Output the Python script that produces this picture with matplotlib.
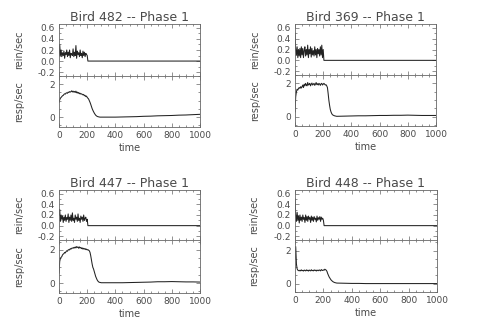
import matplotlib
matplotlib.use("Agg")
import matplotlib.pyplot as plt
from matplotlib.ticker import MultipleLocator, FixedLocator

# ---------------- data ----------------
birds = ["482", "369", "447", "448"]

rein_time = list(range(0, 205, 5)) + [205, 1000]

rein_482 = [0.10, 0.30, 0.10, 0.20, 0.08, 0.15, 0.10, 0.18, 0.05, 0.15, 0.12, 0.20, 0.08, 0.16,
            0.10, 0.20, 0.06, 0.14, 0.12, 0.10, 0.22, 0.08, 0.16, 0.10, 0.28, 0.05, 0.18, 0.12,
            0.15, 0.08, 0.20, 0.10, 0.14, 0.06, 0.18, 0.10, 0.16, 0.08, 0.14, 0.12, 0.10, 0.0, 0.0]
rein_369 = [0.50, 0.20, 0.10, 0.25, 0.05, 0.20, 0.08, 0.22, 0.05, 0.25, 0.10, 0.22, 0.05, 0.18,
            0.25, 0.08, 0.20, 0.10, 0.28, 0.05, 0.20, 0.12, 0.25, 0.06, 0.22, 0.10, 0.18, 0.08,
            0.25, 0.10, 0.20, 0.05, 0.22, 0.12, 0.20, 0.08, 0.25, 0.10, 0.28, 0.05, 0.20, 0.0, 0.0]
rein_447 = [0.20, 0.30, 0.08, 0.20, 0.12, 0.18, 0.06, 0.16, 0.10, 0.20, 0.08, 0.15, 0.12, 0.22,
            0.06, 0.16, 0.10, 0.20, 0.08, 0.24, 0.10, 0.14, 0.06, 0.20, 0.12, 0.16, 0.08, 0.22,
            0.10, 0.14, 0.06, 0.18, 0.12, 0.16, 0.08, 0.20, 0.10, 0.14, 0.16, 0.08, 0.12, 0.0, 0.0]
rein_448 = [0.50, 0.20, 0.08, 0.25, 0.10, 0.18, 0.05, 0.20, 0.10, 0.16, 0.08, 0.20, 0.12, 0.15,
            0.06, 0.20, 0.10, 0.17, 0.08, 0.18, 0.12, 0.15, 0.06, 0.18, 0.10, 0.16, 0.08, 0.17,
            0.12, 0.14, 0.07, 0.18, 0.10, 0.15, 0.12, 0.17, 0.08, 0.16, 0.12, 0.14, 0.10, 0.0, 0.0]

resp_time = list(range(0, 305, 5)) + list(range(350, 1050, 50))

resp_482 = [0.90, 1.05, 1.15, 1.20, 1.25, 1.30, 1.32, 1.38, 1.42, 1.40, 1.46, 1.48, 1.45, 1.52,
            1.50, 1.55, 1.52, 1.55, 1.60, 1.53, 1.58, 1.52, 1.56, 1.50, 1.58, 1.48, 1.52, 1.45,
            1.50, 1.42, 1.45, 1.40, 1.42, 1.38, 1.35, 1.38, 1.30, 1.32, 1.25, 1.28, 1.20, 1.15,
            1.10, 1.00, 0.90, 0.78, 0.65, 0.52, 0.42, 0.33, 0.25, 0.18, 0.12, 0.08, 0.05, 0.03,
            0.02, 0.01, 0.00, 0.00, 0.00,
            0.00, 0.00, 0.01, 0.02, 0.03, 0.05, 0.06, 0.08, 0.09, 0.10, 0.12, 0.13, 0.15, 0.17]
resp_369 = [0.30, 1.20, 1.50, 1.65, 1.60, 1.70, 1.75, 1.70, 1.80, 1.72, 1.80, 1.90, 1.75, 1.95,
            1.85, 2.00, 1.90, 1.85, 2.05, 1.90, 1.95, 2.00, 1.85, 1.95, 2.02, 1.90, 1.95, 2.00,
            1.88, 1.95, 2.05, 1.92, 1.98, 1.90, 2.00, 1.95, 1.88, 1.98, 2.00, 1.90, 1.95, 2.00,
            1.95, 1.90, 1.92, 1.85, 1.75, 1.40, 1.00, 0.70, 0.45, 0.30, 0.20, 0.13, 0.10, 0.08,
            0.06, 0.05, 0.04, 0.03, 0.03,
            0.04, 0.05, 0.06, 0.06, 0.07, 0.08, 0.08, 0.09, 0.09, 0.10, 0.09, 0.08, 0.08, 0.08]
resp_447 = [0.60, 1.30, 1.50, 1.55, 1.60, 1.70, 1.75, 1.78, 1.85, 1.82, 1.90, 1.95, 1.92, 2.00,
            2.02, 2.00, 2.08, 2.05, 2.10, 2.12, 2.10, 2.15, 2.12, 2.18, 2.12, 2.20, 2.15, 2.18,
            2.10, 2.18, 2.12, 2.15, 2.08, 2.12, 2.05, 2.10, 2.05, 2.08, 2.02, 2.05, 2.00, 2.02,
            1.98, 1.95, 1.85, 1.65, 1.40, 1.15, 0.95, 0.85, 0.70, 0.55, 0.40, 0.30, 0.20, 0.13,
            0.08, 0.05, 0.04, 0.03, 0.02,
            0.02, 0.02, 0.02, 0.03, 0.04, 0.05, 0.06, 0.08, 0.08, 0.09, 0.08, 0.07, 0.07, 0.06]
resp_448 = [1.50, 2.25, 1.20, 0.90, 0.82, 0.80, 0.78, 0.82, 0.78, 0.84, 0.79, 0.81, 0.77, 0.83,
            0.80, 0.78, 0.84, 0.79, 0.82, 0.77, 0.83, 0.80, 0.78, 0.85, 0.79, 0.81, 0.78, 0.84,
            0.80, 0.82, 0.77, 0.83, 0.80, 0.79, 0.84, 0.81, 0.78, 0.86, 0.82, 0.80, 0.84, 0.82,
            0.88, 0.85, 0.82, 0.75, 0.62, 0.52, 0.42, 0.35, 0.28, 0.22, 0.18, 0.14, 0.11, 0.09,
            0.07, 0.06, 0.05, 0.04, 0.04,
            0.03, 0.02, 0.02, 0.01, 0.01, 0.01, 0.01, 0.01, 0.01, 0.01, 0.01, 0.01, 0.01, 0.01]

rein_series = [rein_482, rein_369, rein_447, rein_448]
resp_series = [resp_482, resp_369, resp_447, resp_448]

x_ticks = [0, 200, 400, 600, 800, 1000]
rein_ticks = [-0.2, 0.0, 0.2, 0.4, 0.6]
resp_ticks = [0, 2]

# ---------------- layout (pixels) ----------------
W, H = 480, 322
# (left, right, top, mid, bottom)
boxes = [(59, 200, 24, 76, 127), (295, 436, 24, 75, 126),
         (59, 200, 190, 240, 293), (295, 437, 190, 240, 292)]
resp_lims = [(-0.6, 2.5), (-0.55, 2.5), (-0.6, 2.6), (-0.5, 2.65)]

TXT = "#4a4a4a"
LINE = "#222222"
plt.rcParams["font.family"] = ["DejaVu Sans"]

fig = plt.figure(figsize=(W / 100, H / 100), dpi=100)


def px_axes(l, r, t, b):
    return fig.add_axes([l / W, 1 - b / H, (r - l) / W, (b - t) / H])


def style(ax):
    for s in ax.spines.values():
        s.set_color("#666666")
        s.set_linewidth(0.6)
    ax.tick_params(which="both", direction="in", top=True, right=True,
                   colors="#666666", labelcolor=TXT, labelsize=6.5, width=0.5, pad=3)
    ax.tick_params(which="major", length=3)
    ax.tick_params(which="minor", length=1.5)
    ax.set_xlim(0, 1000)
    ax.xaxis.set_major_locator(FixedLocator(x_ticks))
    ax.xaxis.set_minor_locator(MultipleLocator(50))


for i, (l, r, t, m, b) in enumerate(boxes):
    ax1 = px_axes(l, r, t, m)
    ax2 = px_axes(l, r, m, b)
    style(ax1)
    style(ax2)
    ax1.plot(rein_time, rein_series[i], color=LINE, lw=0.75)
    ax2.plot(resp_time, resp_series[i], color=LINE, lw=0.75)

    ax1.set_ylim(-0.27, 0.67)
    ax1.yaxis.set_major_locator(FixedLocator(rein_ticks))
    ax1.yaxis.set_minor_locator(MultipleLocator(0.1))
    ax1.set_yticklabels([f"{v:.1f}" for v in rein_ticks])
    ax1.tick_params(labelbottom=False)

    ax2.set_ylim(*resp_lims[i])
    ax2.yaxis.set_major_locator(FixedLocator(resp_ticks))
    ax2.yaxis.set_minor_locator(MultipleLocator(0.5))
    ax2.set_xticklabels([str(v) for v in x_ticks])

    ax1.set_title(f"Bird {birds[i]} -- Phase 1", fontsize=9, color=TXT, pad=2)
    ax1.set_ylabel("rein/sec", fontsize=7, color=TXT)
    ax2.set_ylabel("resp/sec", fontsize=7, color=TXT)
    ax1.yaxis.set_label_coords(-0.25, 0.5)
    ax2.yaxis.set_label_coords(-0.25, 0.5)
    ax2.set_xlabel("time", fontsize=7, color=TXT, labelpad=2)

fig.savefig("out.png", dpi=100)
